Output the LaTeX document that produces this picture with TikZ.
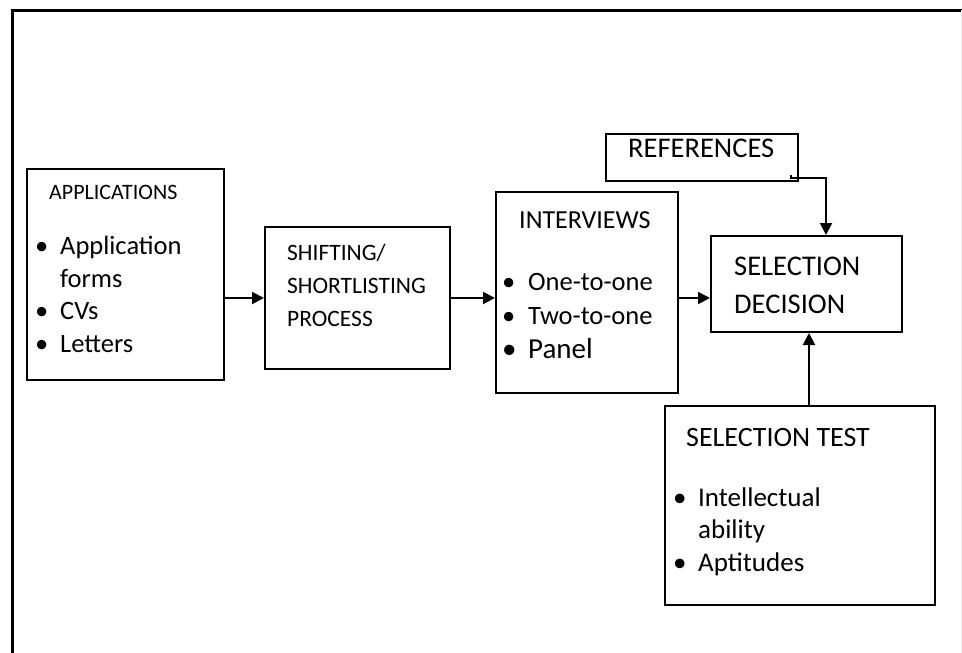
\documentclass[tikz,border=0pt]{standalone}
\usepackage{fontspec}
\setmainfont{Carlito}
\usepackage{tikz}
\usetikzlibrary{arrows.meta}

\newcommand{\bul}[1]{\makebox[#1][l]{\textbullet}}

\begin{document}
\begin{tikzpicture}[x=1pt,y=-1pt,
  box/.style={draw, line width=2pt, inner sep=0pt},
  arr/.style={line width=2pt, -{Triangle[length=12pt,width=12pt]}},
  txt/.style={inner sep=0pt, anchor=base west, align=left}
]
  \useasboundingbox (0,0) rectangle (962,653);
  % outer frame
  \draw[line width=3pt] (12,653) -- (12,10) -- (962,10);
  \draw[black!8] (961,10) -- (961,653);

  % boxes
  \node[box, minimum width=197pt, minimum height=211pt] (apps) at (125.5,274.5) {};
  \node[box, minimum width=185pt, minimum height=142pt] (shift) at (357.5,298) {};
  \node[box, minimum width=182pt, minimum height=201pt] (interv) at (587,292.5) {};
  \node[box, minimum width=192pt, minimum height=47pt] (refs) at (702,157.5) {};
  \node[box, minimum width=191pt, minimum height=96pt] (decision) at (806.5,284) {};
  \node[box, minimum width=270pt, minimum height=199pt] (test) at (800,505.5) {};

  % texts (multi-line nodes sit on their last baseline)
  \node[txt, font=\fontsize{22}{26}\selectfont] (appstitle) at (49,199) {APPLICATIONS};
  \node[txt, font=\fontsize{26.5}{32.5}\selectfont] (appslist) at (35,352)
    {\bul{25pt}Application\\\hspace*{25pt}forms\\\bul{25pt}CVs\\\bul{25pt}Letters};
  \node[txt, font=\fontsize{23.5}{33}\selectfont] (shifttext) at (287,326)
    {SHIFTING/\\SHORTLISTING\\PROCESS};
  \node[txt, font=\fontsize{26}{30}\selectfont] (intervtitle) at (519,228) {INTERVIEWS};
  \node[txt, font=\fontsize{26.5}{34}\selectfont] (intervlist) at (502,358)
    {\bul{26pt}One-to-one\\\bul{26pt}Two-to-one\\\fontsize{29}{34}\selectfont\bul{26pt}Panel};
  \node[txt, font=\fontsize{28.5}{32}\selectfont] (refstext) at (628,157) {REFERENCES};
  \node[txt, font=\fontsize{28.5}{38}\selectfont] (decisiontext) at (734,313)
    {SELECTION\\DECISION};
  \node[txt, font=\fontsize{28}{32}\selectfont] (testtitle) at (686,446) {SELECTION TEST};
  \node[txt, font=\fontsize{27}{32.5}\selectfont] (testlist) at (673,571)
    {\bul{25pt}Intellectual\\\hspace*{25pt}ability\\\bul{25pt}Aptitudes};

  % connectors
  \coordinate (refcorner) at (791,175);
  \coordinate (refturn) at (826,178);
  \coordinate (testtop) at (809,406);
  \draw[arr] (apps.east |- shift.west) -- (shift.west);
  \draw[arr] (shift.east) -- (interv.west |- shift.east);
  \draw[arr] (interv.east |- shift.east) -- (decision.west |- shift.east);
  \draw[arr] (refcorner) |- (refturn) -- (refturn |- decision.north);
  \draw[arr] (testtop) -- (testtop |- decision.south);
\end{tikzpicture}
\end{document}
